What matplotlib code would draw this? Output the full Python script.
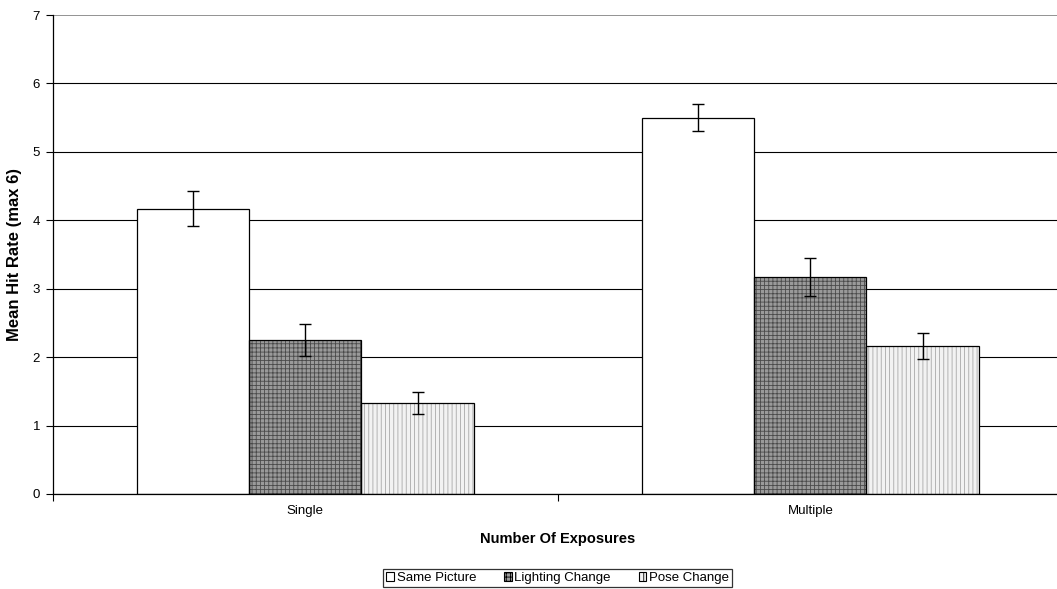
import matplotlib.pyplot as plt
from matplotlib.patches import Patch
import numpy as np

plt.rcParams['font.family'] = ['Liberation Sans', 'DejaVu Sans']
plt.rcParams['hatch.linewidth'] = 0.6

# chart data
categories = ["Single", "Multiple"]
series = ["Same Picture", "Lighting Change", "Pose Change"]
means = {
    "Same Picture": [4.17, 5.50],
    "Lighting Change": [2.25, 3.17],
    "Pose Change": [1.33, 2.16],
}
errors = {
    "Same Picture": [0.26, 0.20],
    "Lighting Change": [0.24, 0.28],
    "Pose Change": [0.16, 0.19],
}

# fill, hatch, hatch colour for each series
styles = {
    "Same Picture": ("white", None, "white"),
    "Lighting Change": ("#9a9a9a", "++++", "#4a4a4a"),
    "Pose Change": ("#f2f2f2", "||||", "#a8a8a8"),
}

fig = plt.figure(figsize=(10.57, 5.89), dpi=100)
# the plot area runs a little past the right edge of the image, as in the original
ax = fig.add_axes([0.0498, 0.1613, 0.9558, 0.8132])

x = np.arange(len(categories))
width = 0.2223
offsets = [-width, 0, width]

handles = []
for name, off in zip(series, offsets):
    face, hatch, hcol = styles[name]
    # fill + pattern
    ax.bar(x + off, means[name], width, color=face, hatch=hatch,
           edgecolor=hcol, linewidth=0, zorder=2)
    # outline
    ax.bar(x + off, means[name], width, fill=False, edgecolor="black",
           linewidth=0.9, zorder=3)
    ax.errorbar(x + off, means[name], yerr=errors[name], fmt="none",
                ecolor="black", elinewidth=1, capsize=4, capthick=1, zorder=4)
    # legend proxy
    handles.append(Patch(facecolor=face, hatch=hatch, edgecolor="black",
                         linewidth=0.8, label=name))

ax.set_xlim(-0.5, 1.5)
ax.set_ylim(0, 7)
ax.set_yticks(range(0, 8))
ax.yaxis.grid(True, color="black", linewidth=0.8, zorder=0)
ax.yaxis.get_gridlines()[-1].set_color("#808080")
ax.yaxis.get_gridlines()[-1].set_linewidth(1.2)
ax.set_axisbelow(True)

ax.set_xticks([-0.5, 0.5, 1.5])
ax.set_xticklabels([])
ax.set_xticks(x, minor=True)
ax.set_xticklabels(categories, minor=True)
ax.tick_params(axis="x", which="minor", length=0, pad=8, labelsize=9.5)
ax.tick_params(axis="x", which="major", length=5, direction="out")
ax.tick_params(axis="y", length=5, direction="out", labelsize=9.5, pad=4)

for s in ["top", "right"]:
    ax.spines[s].set_visible(False)
for s in ["left", "bottom"]:
    ax.spines[s].set_color("black")
    ax.spines[s].set_linewidth(0.9)

ax.set_xlabel("Number Of Exposures", fontsize=10.5, fontweight="bold", labelpad=11)
ax.set_ylabel("Mean Hit Rate (max 6)", fontsize=12, fontweight="bold", labelpad=8)

leg = fig.legend(handles=handles, loc="center", bbox_to_anchor=(0.5275, 0.0187),
                 ncol=3, fontsize=9.5, frameon=True, fancybox=False,
                 handlelength=0.6, handleheight=0.6, handletextpad=0.2,
                 columnspacing=2.1, borderpad=0.25, borderaxespad=0)
leg.get_frame().set_edgecolor("black")
leg.get_frame().set_linewidth(0.9)

fig.savefig("out.png", dpi=100)
